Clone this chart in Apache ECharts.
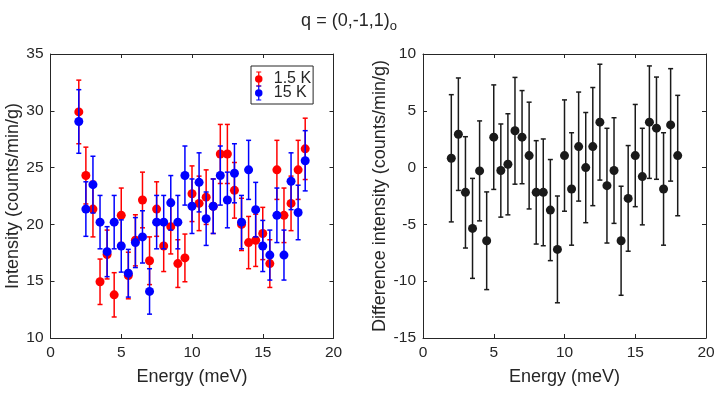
<!DOCTYPE html>
<html>
<head>
<meta charset="utf-8">
<script src="https://cdn.jsdelivr.net/npm/echarts@6/dist/echarts.min.js"></script>
<style>
  html, body { margin: 0; padding: 0; background: #fff; }
  #charts { width: 718px; height: 394px; }
</style>
</head>
<body>
<div id="charts"></div>
<script>
// energy transfer (meV)
const energy = [2, 2.5, 3, 3.5, 4, 4.5, 5, 5.5, 6, 6.5, 7, 7.5, 8, 8.5, 9, 9.5, 10,
  10.5, 11, 11.5, 12, 12.5, 13, 13.5, 14, 14.5, 15, 15.5, 16, 16.5, 17, 17.5, 18];

// 1.5 K
const red = [29.9, 24.3, 21.35, 14.95, 17.35, 13.8, 20.8, 15.5, 18.6, 22.15, 16.8, 21.35, 18.1, 19.8, 16.55, 17.05, 22.7,
  21.85, 22.4, 21.6, 26.2, 26.2, 23.0, 20.0, 18.4, 18.6, 19.2, 16.55, 24.8, 20.8, 21.85, 24.8, 26.65];
const redErr = [2.8, 2.5, 2.45, 2.0, 2.15, 1.95, 2.4, 2.05, 2.25, 2.45, 2.1, 2.4, 2.25, 2.4, 2.1, 2.1, 2.45,
  2.4, 2.4, 2.4, 2.6, 2.6, 2.45, 2.3, 2.3, 2.3, 2.3, 2.1, 2.6, 2.4, 2.4, 2.6, 2.7];

// 15 K
const blue = [29.06, 21.35, 23.5, 20.2, 17.6, 20.2, 18.1, 15.7, 18.4, 18.9, 14.1, 20.2, 20.2, 21.9, 20.2, 24.3, 21.6,
  23.7, 20.5, 21.6, 24.3, 22.15, 24.5, 20.2, 24.8, 21.3, 18.1, 17.3, 20.8, 17.3, 23.8, 21.05, 25.6];
const blueErr = [2.8, 2.4, 2.5, 2.35, 2.2, 2.35, 2.3, 2.1, 2.2, 2.3, 2.0, 2.35, 2.35, 2.4, 2.35, 2.6, 2.4,
  2.6, 2.35, 2.4, 2.6, 2.45, 2.6, 2.35, 2.6, 2.4, 2.25, 2.2, 2.4, 2.2, 2.5, 2.4, 2.65];

// difference 1.5 K - 15 K
const diff = [0.82, 2.94, -2.18, -5.35, -0.29, -6.44, 2.68, -0.26, 0.29, 3.24, 2.68, 1.06, -2.18, -2.18, -3.74, -7.2, 1.06,
  -1.88, 1.85, 0.0, 1.85, 4.0, -1.59, -0.26, -6.44, -2.71, 1.06, -0.79, 4.0, 3.47, -1.88, 3.76, 1.06];
const diffErr = [5.6, 4.95, 4.9, 4.4, 4.4, 4.3, 4.6, 4.1, 4.45, 4.7, 4.1, 4.7, 4.55, 4.7, 4.45, 4.7, 4.9,
  4.95, 4.8, 4.85, 5.2, 5.1, 5.05, 4.65, 4.8, 4.65, 4.5, 4.25, 4.95, 4.5, 4.95, 4.95, 5.3];

let chartDom = document.getElementById("charts");
let myChart = echarts.init(chartDom);
let axisColor = "#262626";
let font = "Liberation Sans, Arial, sans-serif";

function pack(xs, ys, es) {
  return xs.map(function (x, i) { return [x, ys[i], es[i]]; });
}

// errorbar with cap + filled circle marker
function errRender(color) {
  return function (params, api) {
    let x = api.value(0), y = api.value(1), e = api.value(2);
    let p = api.coord([x, y]);
    let lo = api.coord([x, y - e]);
    let hi = api.coord([x, y + e]);
    let cap = 2.5;
    let st = { stroke: color, lineWidth: 1.5 };
    return {
      type: "group",
      children: [
        { type: "line", shape: { x1: p[0], y1: hi[1], x2: p[0], y2: lo[1] }, style: st },
        { type: "line", shape: { x1: p[0] - cap, y1: hi[1], x2: p[0] + cap, y2: hi[1] }, style: st },
        { type: "line", shape: { x1: p[0] - cap, y1: lo[1], x2: p[0] + cap, y2: lo[1] }, style: st },
        { type: "circle", shape: { cx: p[0], cy: p[1], r: 4.5 }, style: { fill: color } },
      ],
    };
  };
}

function mainX(grid, name) {
  return {
    gridIndex: grid, type: "value", min: 0, max: 20, interval: 5, position: "bottom",
    name: name, nameLocation: "middle", nameGap: 30,
    nameTextStyle: { color: axisColor, fontSize: 18, fontFamily: font },
    axisLine: { show: true, onZero: false, lineStyle: { color: axisColor, width: 1 } },
    axisTick: { show: true, inside: true, length: 4, lineStyle: { color: axisColor } },
    axisLabel: { color: axisColor, fontSize: 15.5, fontFamily: font, margin: 7 },
    splitLine: { show: false },
  };
}
function topX(grid) {
  return {
    gridIndex: grid, type: "value", min: 0, max: 20, interval: 5, position: "top",
    axisLine: { show: true, onZero: false, lineStyle: { color: axisColor, width: 1 } },
    axisTick: { show: true, inside: true, length: 4, lineStyle: { color: axisColor } },
    axisLabel: { show: false }, splitLine: { show: false },
  };
}
function mainY(grid, min, max, name, gap) {
  return {
    gridIndex: grid, type: "value", min: min, max: max, interval: 5, position: "left",
    name: name, nameLocation: "middle", nameGap: gap,
    nameTextStyle: { color: axisColor, fontSize: 18, fontFamily: font },
    axisLine: { show: true, onZero: false, lineStyle: { color: axisColor, width: 1 } },
    axisTick: { show: true, inside: true, length: 4, lineStyle: { color: axisColor } },
    axisLabel: { color: axisColor, fontSize: 15.5, fontFamily: font, margin: 7 },
    splitLine: { show: false },
  };
}
function rightY(grid, min, max) {
  return {
    gridIndex: grid, type: "value", min: min, max: max, interval: 5, position: "right",
    axisLine: { show: true, onZero: false, lineStyle: { color: axisColor, width: 1 } },
    axisTick: { show: true, inside: true, length: 4, lineStyle: { color: axisColor } },
    axisLabel: { show: false }, splitLine: { show: false },
  };
}

let legendIcon = "path://M4,0H8V0.8H6.5V3H5.5V0.8H4Z M5.5,9H6.5V11.2H8V12H4V11.2H5.5Z M9,6A3,3 0 1 1 3,6A3,3 0 1 1 9,6Z";

let option = {
  backgroundColor: "#fff",
  animation: false,
  title: {
    text: "q = (0,-1,1){s|o}",
    left: 344, top: 5, textAlign: "center",
    textStyle: {
      color: axisColor, fontSize: 18, fontWeight: "normal", fontFamily: font,
      rich: { s: { fontSize: 13, color: axisColor, fontFamily: font, padding: [10, 0, 0, 0] } },
    },
  },
  legend: {
    left: 251, top: 66,
    orient: "vertical",
    data: ["1.5 K", "15 K"],
    icon: legendIcon,
    itemWidth: 20, itemHeight: 15, itemGap: -2,
    padding: [5, 2, 3, 4],
    borderColor: axisColor, borderWidth: 1, backgroundColor: "#fff",
    textStyle: { color: axisColor, fontSize: 16, fontFamily: font, lineHeight: 13 },
  },
  grid: [
    { left: 50.5, top: 54, width: 283, height: 284 },
    { left: 423, top: 54, width: 283, height: 284 },
  ],
  xAxis: [mainX(0, "Energy (meV)"), topX(0), mainX(1, "Energy (meV)"), topX(1)],
  yAxis: [
    mainY(0, 10, 35, "Intensity (counts/min/g)", 28),
    rightY(0, 10, 35),
    mainY(1, -15, 10, "Difference intensity (counts/min/g)", 34),
    rightY(1, -15, 10),
  ],
  series: [
    {
      name: "1.5 K", type: "custom", xAxisIndex: 0, yAxisIndex: 0,
      itemStyle: { color: "#ff0000" },
      renderItem: errRender("#ff0000"), encode: { x: 0, y: 1 },
      data: pack(energy, red, redErr),
    },
    {
      name: "15 K", type: "custom", xAxisIndex: 0, yAxisIndex: 0,
      itemStyle: { color: "#0000ff" },
      renderItem: errRender("#0000ff"), encode: { x: 0, y: 1 },
      data: pack(energy, blue, blueErr),
    },
    {
      name: "diff", type: "custom", xAxisIndex: 2, yAxisIndex: 2,
      itemStyle: { color: "#000" },
      renderItem: errRender("#1a1a1a"), encode: { x: 0, y: 1 },
      data: pack(energy, diff, diffErr),
    },
  ],
};

option && myChart.setOption(option);
</script>
</body>
</html>
